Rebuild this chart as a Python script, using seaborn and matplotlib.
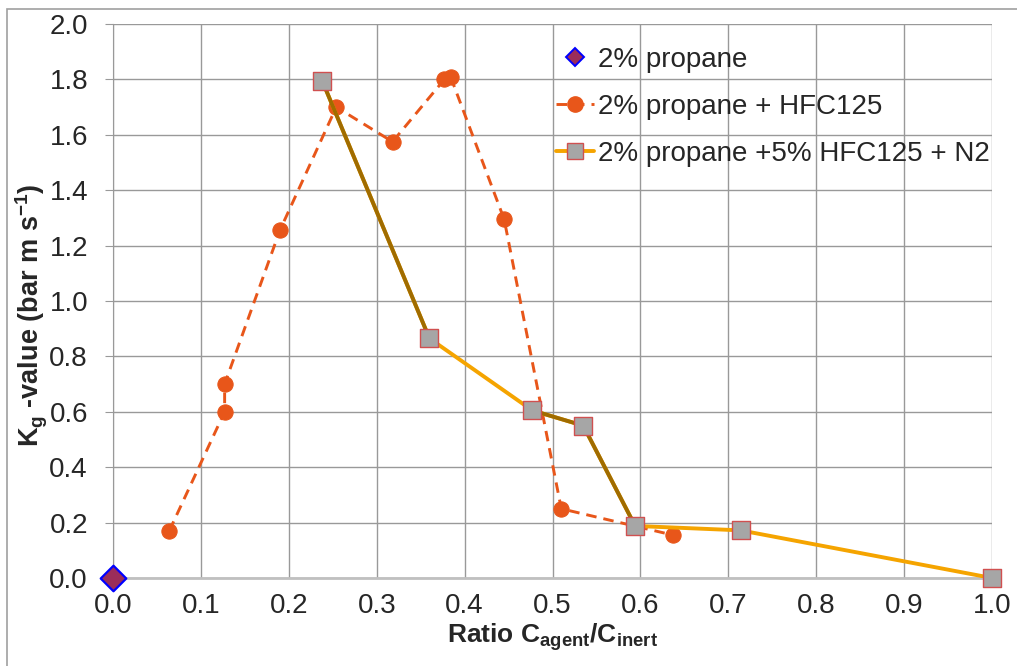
import numpy as np
import pandas as pd
import seaborn as sns
import matplotlib.pyplot as plt
from matplotlib.lines import Line2D
from matplotlib.patches import Rectangle

# Data
propane_x = [0.0]
propane_y = [0.0]

hfc_x = [0.064, 0.127, 0.127, 0.190, 0.254, 0.318, 0.377, 0.384, 0.445, 0.510, 0.637]
hfc_y = [0.17, 0.60, 0.70, 1.256, 1.70, 1.575, 1.80, 1.81, 1.295, 0.25, 0.155]

n2_x = [0.238, 0.360, 0.477, 0.535, 0.594, 0.714, 1.0]
n2_y = [1.795, 0.865, 0.605, 0.55, 0.188, 0.172, 0.0]

labels = ["2% propane", "2% propane + HFC125", "2% propane +5% HFC125 + N2"]

sns.set_style("white")
plt.rcParams["font.family"] = ["Liberation Sans", "DejaVu Sans"]
plt.rcParams["mathtext.fontset"] = "custom"
plt.rcParams["mathtext.rm"] = "Liberation Sans"
plt.rcParams["mathtext.bf"] = "Liberation Sans:bold"

fig = plt.figure(figsize=(10.17, 6.66), dpi=100)
ax = fig.add_axes([113 / 1017, 1 - 578 / 666, (992 - 113) / 1017, (578 - 24) / 666])

# outer chart frame
fig.patches.append(Rectangle((7 / 1017, -0.1), 1.2, 1 - 9 / 666 + 0.1, transform=fig.transFigure,
                             fill=False, edgecolor="#a0a0a0", lw=1.2))

orange = "#E8561A"
line_orange = "#F5A400"
brown = "#A06C00"
dash = (0, (3.6, 2.4))

# series 2: dashed with circles
sns.lineplot(x=hfc_x, y=hfc_y, sort=False, estimator=None, ax=ax, color=orange,
             linestyle=dash, lw=2.1, marker="o", markersize=11,
             markeredgecolor=orange, zorder=3)

# series 3: solid line, some segments darker
sns.lineplot(x=n2_x, y=n2_y, sort=False, estimator=None, ax=ax, color=line_orange,
             lw=2.8, zorder=4)
for i in [0, 2, 3]:
    ax.plot(n2_x[i:i + 2], n2_y[i:i + 2], color=brown, lw=2.8, zorder=4,
            solid_capstyle="butt")
sns.scatterplot(x=n2_x, y=n2_y, ax=ax, marker="s", s=150, color="#A6A6A6",
                edgecolor="#D05050", linewidth=1, zorder=5, clip_on=False)

# series 1: single diamond
sns.scatterplot(x=propane_x, y=propane_y, ax=ax, marker="D", s=170, color="#9B2D5A",
                edgecolor="#0000FF", linewidth=1.6, zorder=6, clip_on=False)

ax.set_xlim(0, 1.0)
ax.set_ylim(0, 2.0)
ax.set_xticks(np.arange(0, 1.01, 0.1))
ax.set_yticks(np.arange(0, 2.01, 0.2))
ax.set_xticklabels([f"{v:.1f}" for v in np.arange(0, 1.01, 0.1)])
ax.set_yticklabels([f"{v:.1f}" for v in np.arange(0, 2.01, 0.2)])
ax.grid(True, color="#999999", lw=1)
ax.set_axisbelow(True)
for s in ["top", "right"]:
    ax.spines[s].set_visible(False)
ax.spines["left"].set_color("#999999")
ax.spines["bottom"].set_color("#c0c0c0")
ax.spines["bottom"].set_linewidth(2)
ax.tick_params(axis="y", length=6, color="#999999", labelsize=20, pad=12, left=True)
ax.tick_params(axis="x", length=0, labelsize=20, pad=11)

ax.set_xlabel(r"Ratio C$_{\mathbf{agent}}$/C$_{\mathbf{inert}}$", fontsize=19,
              fontweight="bold", labelpad=1)
ax.set_ylabel(r"K$_{\mathbf{g}}$ -value (bar m s$^{\mathbf{-1}}$)", fontsize=19.5,
              fontweight="bold", labelpad=4)
ax.yaxis.set_label_coords(-0.072, 0.475)

handles = [
    Line2D([], [], marker="D", color="none", markerfacecolor="#9B2D5A",
           markeredgecolor="#0000FF", markersize=9, markeredgewidth=1.4),
    Line2D([], [], color=orange, linestyle=dash, lw=2.1, marker="o",
           markersize=11, markeredgecolor=orange),
    Line2D([], [], color=line_orange, lw=2.8, marker="s", markersize=11,
           markerfacecolor="#A6A6A6", markeredgecolor="#D05050"),
]
ax.legend(handles, labels, loc="upper left", bbox_to_anchor=(531 / 1017, 1 - 22 / 666),
          bbox_transform=fig.transFigure, frameon=False, fontsize=20,
          handlelength=1.35, handletextpad=0.15, labelspacing=0.75)

fig.savefig("out.png", dpi=100)
